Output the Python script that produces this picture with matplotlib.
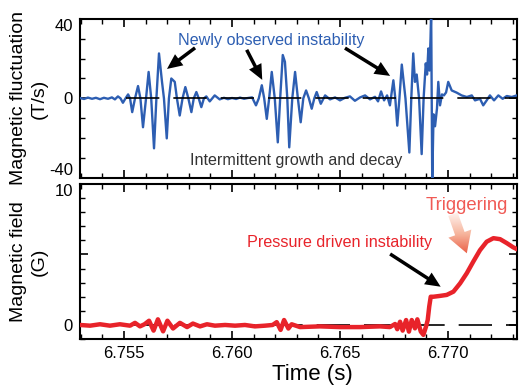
import numpy as np
import matplotlib
matplotlib.use("Agg")
import matplotlib.pyplot as plt
from matplotlib.patches import FancyArrowPatch
from matplotlib.colors import LinearSegmentedColormap
from matplotlib.ticker import MultipleLocator, FixedLocator, FixedFormatter

plt.rcParams['font.family'] = ['Liberation Sans', 'DejaVu Sans']
plt.rcParams['axes.unicode_minus'] = False

# magnetic fluctuation (T/s)
t_fluct = [6.75296, 6.75315, 6.75333, 6.75352, 6.75370, 6.75389, 6.75407, 6.75426,
           6.75444, 6.75458, 6.75472, 6.75484, 6.75495, 6.75507, 6.75519, 6.75528,
           6.75538, 6.75551, 6.75565, 6.75576, 6.75588, 6.75602, 6.75614, 6.75626,
           6.75639, 6.75650, 6.75662, 6.75676, 6.75685, 6.75698, 6.75708, 6.75719,
           6.75735, 6.75745, 6.75758, 6.75771, 6.75784, 6.75798, 6.75812, 6.75823,
           6.75835, 6.75846, 6.75858, 6.75870, 6.75881, 6.75897, 6.75920, 6.75943,
           6.75963, 6.75981, 6.76000, 6.76019, 6.76037, 6.76056, 6.76074, 6.76093,
           6.76111, 6.76124, 6.76138, 6.76149, 6.76161, 6.76172, 6.76184, 6.76198,
           6.76212, 6.76223, 6.76235, 6.76245, 6.76256, 6.76265, 6.76279, 6.76292,
           6.76305, 6.76318, 6.76330, 6.76343, 6.76356, 6.76369, 6.76381, 6.76392,
           6.76411, 6.76431, 6.76454, 6.76477, 6.76500, 6.76523, 6.76546, 6.76569,
           6.76593, 6.76616, 6.76639, 6.76662, 6.76676, 6.76690, 6.76704, 6.76718,
           6.76731, 6.76747, 6.76756, 6.76765, 6.76775, 6.76786, 6.76803, 6.76821,
           6.76830, 6.76839, 6.76847, 6.76855, 6.76866, 6.76878, 6.76887, 6.76897,
           6.76903, 6.76909, 6.76914, 6.76919, 6.76922, 6.76927, 6.76933, 6.76940,
           6.76949, 6.76955, 6.76963, 6.76972, 6.76981, 6.76991, 6.77001, 6.77017,
           6.77040, 6.77063, 6.77087, 6.77110, 6.77125, 6.77148, 6.77163, 6.77179,
           6.77194, 6.77213, 6.77233, 6.77253, 6.77272, 6.77295, 6.77318, 6.77329]
fluct = [0.2, -0.3, 0.4, -0.2, 0.3, -0.4, 0.3, -0.2,
         0.5, -0.5, 1.0, 0.0, -2.2, 0.0, 2.0, 0.0,
         -6.9, 0.0, 6.2, 0.0, -14.5, 0.0, 13.3, 0.0,
         -25.1, 0.0, 22.6, 8.3, 0.0, -20.1, 0.0, 10.0,
         8.3, 0.0, -8.6, 0.0, 5.7, 0.0, -6.9, 0.0,
         3.2, 0.0, -4.4, 0.0, 1.0, -1.5, 1.5, -0.5,
         0.3, -0.4, 0.2, -0.3, 0.4, -0.2, 0.2, 0.5,
         -3.5, 0.0, 6.6, 0.0, -10.3, 0.0, 13.3, 0.0,
         -22.1, 0.0, 21.8, 18.4, 0.0, -24.6, 0.0, 13.3,
         0.0, -12.0, 0.0, 4.0, 0.0, -5.2, 0.0, 3.2,
         -2.7, 1.5, -0.5, 0.5, -1.0, 0.3, 1.0, -1.2,
         0.5, 1.5, -0.5, 0.8, -1.5, 3.5, -1.0, 1.5,
         -3.5, 9.1, 0.0, -13.7, 0.0, 17.0, 0.0, -27.2,
         0.0, 22.6, 8.3, 12.0, 0.0, -28.0, 0.0, 17.6,
         12.0, 25.1, 14.0, 30.0, 44.0, -42.0, -8.0, -14.0,
         -5.0, 8.3, -3.5, 2.0, 1.5, 3.0, 8.3, 4.0,
         2.9, 1.5, 0.7, 1.5, -1.0, -0.2, -3.5, -1.0,
         1.5, -1.0, 1.5, -0.2, 1.2, 0.7, 1.5, 1.5]

# magnetic field (G)
t_field = [6.75296, 6.75343, 6.75389, 6.75435, 6.75481, 6.75528, 6.75551, 6.75574,
           6.75595, 6.75616, 6.75637, 6.75657, 6.75681, 6.75701, 6.75727, 6.75759,
           6.75792, 6.75819, 6.75852, 6.75884, 6.75921, 6.75968, 6.76014, 6.76060,
           6.76106, 6.76153, 6.76188, 6.76207, 6.76225, 6.76241, 6.76261, 6.76276,
           6.76315, 6.76407, 6.76500, 6.76593, 6.76685, 6.76731, 6.76755, 6.76765,
           6.76778, 6.76790, 6.76806, 6.76819, 6.76832, 6.76847, 6.76858, 6.76874,
           6.76886, 6.76898, 6.76906, 6.76913, 6.76920, 6.76932, 6.76963, 6.76994,
           6.77025, 6.77056, 6.77087, 6.77117, 6.77148, 6.77179, 6.77210, 6.77241,
           6.77272, 6.77302, 6.77329]
field = [0.0, -0.05, 0.05, -0.05, 0.05, -0.05, 0.15, -0.1,
         0.05, 0.3, -0.4, 0.4, -0.45, 0.3, -0.25, 0.15,
         -0.15, 0.1, -0.1, 0.05, -0.05, 0.0, -0.05, 0.0,
         -0.1, -0.05, 0.0, 0.2, -0.35, 0.35, -0.25, 0.05,
         -0.15, -0.1, -0.15, -0.15, -0.1, -0.15, 0.07, -0.3,
         0.23, -0.4, 0.35, -0.47, 0.35, -0.24, 0.4, -0.47,
         -0.7, -0.12, 0.35, 1.3, 2.0, 2.0, 2.06, 2.13,
         2.36, 2.95, 3.67, 4.49, 5.3, 5.9, 6.15, 6.08,
         5.8, 5.5, 5.3]

t_start, t_end = 6.75296, 6.77319
t_dash_start = 6.75509   # zero reference line in the upper panel starts here
zero_dash = (0, (20, 8.4))

blue = '#2d5eb2'
red = '#e8232a'

fig = plt.figure(figsize=(5.19, 3.92), dpi=100)
ax1 = fig.add_axes([0.154, 0.546, 0.842, 0.406])
ax2 = fig.add_axes([0.154, 0.135, 0.842, 0.396])

for ax in (ax1, ax2):
    for s in ax.spines.values():
        s.set_linewidth(1.5)
    ax.tick_params(which='both', direction='in', top=True, right=True, labelsize=12)
    ax.tick_params(which='major', length=6, width=1.2, pad=5)
    ax.tick_params(which='minor', length=3.5, width=1.0)
    ax.xaxis.set_major_locator(MultipleLocator(0.005))
    ax.xaxis.set_minor_locator(MultipleLocator(0.001))

# upper panel
ax1.plot(t_fluct, fluct, color=blue, lw=1.7, zorder=3, solid_joinstyle='round')
ax1.hlines(0, t_dash_start, t_end, colors='k', lw=1.2, linestyles=[zero_dash], zorder=4)
ax1.set_xlim(t_start, t_end)
ax1.set_ylim(-40, 40)
ax1.yaxis.set_major_locator(MultipleLocator(40))
ax1.yaxis.set_minor_locator(MultipleLocator(10))
ax1.tick_params(labelbottom=False)
ax1.set_ylabel('Magnetic fluctuation\n(T/s)', fontsize=14, linespacing=1.25)
ax1.yaxis.set_label_coords(-0.074, 0.5)

ax1.text(6.76183, 26.9, 'Newly observed instability', color=blue, fontsize=11.6,
         ha='center', va='baseline')
ax1.text(6.76295, -33.5, 'Intermittent growth and decay', color='#333333', fontsize=11.6,
         ha='center', va='baseline')
arrow_kw = dict(arrowstyle='simple,head_length=1.1,head_width=1.0,tail_width=0.25',
                mutation_scale=10, color='k', lw=0, shrinkA=0, shrinkB=0)
ax1.annotate('', xy=(6.75699, 14.8), xytext=(6.75829, 25.4), arrowprops=arrow_kw)
ax1.annotate('', xy=(6.76140, 9.3), xytext=(6.76068, 24.4), arrowprops=arrow_kw)
ax1.annotate('', xy=(6.76732, 11.3), xytext=(6.76523, 25.3), arrowprops=arrow_kw)

# lower panel
ax2.axhline(0, color='k', lw=1.2, linestyle=zero_dash, zorder=1)
ax2.plot(t_field, field, color=red, lw=3.2, zorder=3, solid_capstyle='round',
         solid_joinstyle='round')
ax2.yaxis.set_major_locator(FixedLocator([0, 5, 10]))
ax2.yaxis.set_major_formatter(FixedFormatter(['0', '', '10']))
ax2.yaxis.set_minor_locator(MultipleLocator(1))
ax2.set_ylabel('Magnetic field\n(G)', fontsize=14, linespacing=1.25)
ax2.yaxis.set_label_coords(-0.074, 0.5)
ax2.set_xlabel('Time (s)', fontsize=16)
ax2.xaxis.set_label_coords(0.533, -0.16)

ax2.text(6.76498, 5.55, 'Pressure driven instability', color=red, fontsize=11.6,
         ha='center', va='baseline')
ax2.text(6.77086, 8.15, 'Triggering', color='#f05a55', fontsize=13.3,
         ha='center', va='baseline')
ax2.annotate('', xy=(6.76966, 2.71), xytext=(6.76732, 5.03), arrowprops=arrow_kw)

# fading "triggering" arrow
trig = FancyArrowPatch((6.77023, 7.85), (6.77087, 5.08),
                       arrowstyle='simple,head_length=1.5,head_width=1.75,tail_width=0.72',
                       mutation_scale=10, fc='none', ec='none', shrinkA=0, shrinkB=0,
                       transform=ax2.transData)
ax2.add_patch(trig)
cmap = LinearSegmentedColormap.from_list('trig', ['#fff4f0', '#f6b49c', '#e9553c'])
grad = ax2.imshow(np.linspace(0, 1, 200).reshape(-1, 1), cmap=cmap, aspect='auto',
                  extent=[6.7698, 6.7713, 4.9, 8.0], origin='upper', zorder=4)
grad.set_clip_path(trig)

ax2.set_xlim(t_start, t_end)
ax2.set_ylim(-1, 10)

# extreme tick labels sit just inside the axes, as in the original
for lab in ax1.get_yticklabels():
    if lab.get_text() == '40':
        lab.set_va('top')
    elif lab.get_text() == '-40':
        lab.set_va('bottom')
for lab in ax2.get_yticklabels():
    if lab.get_text() == '10':
        lab.set_va('top')

fig.savefig('out.png', dpi=100)
